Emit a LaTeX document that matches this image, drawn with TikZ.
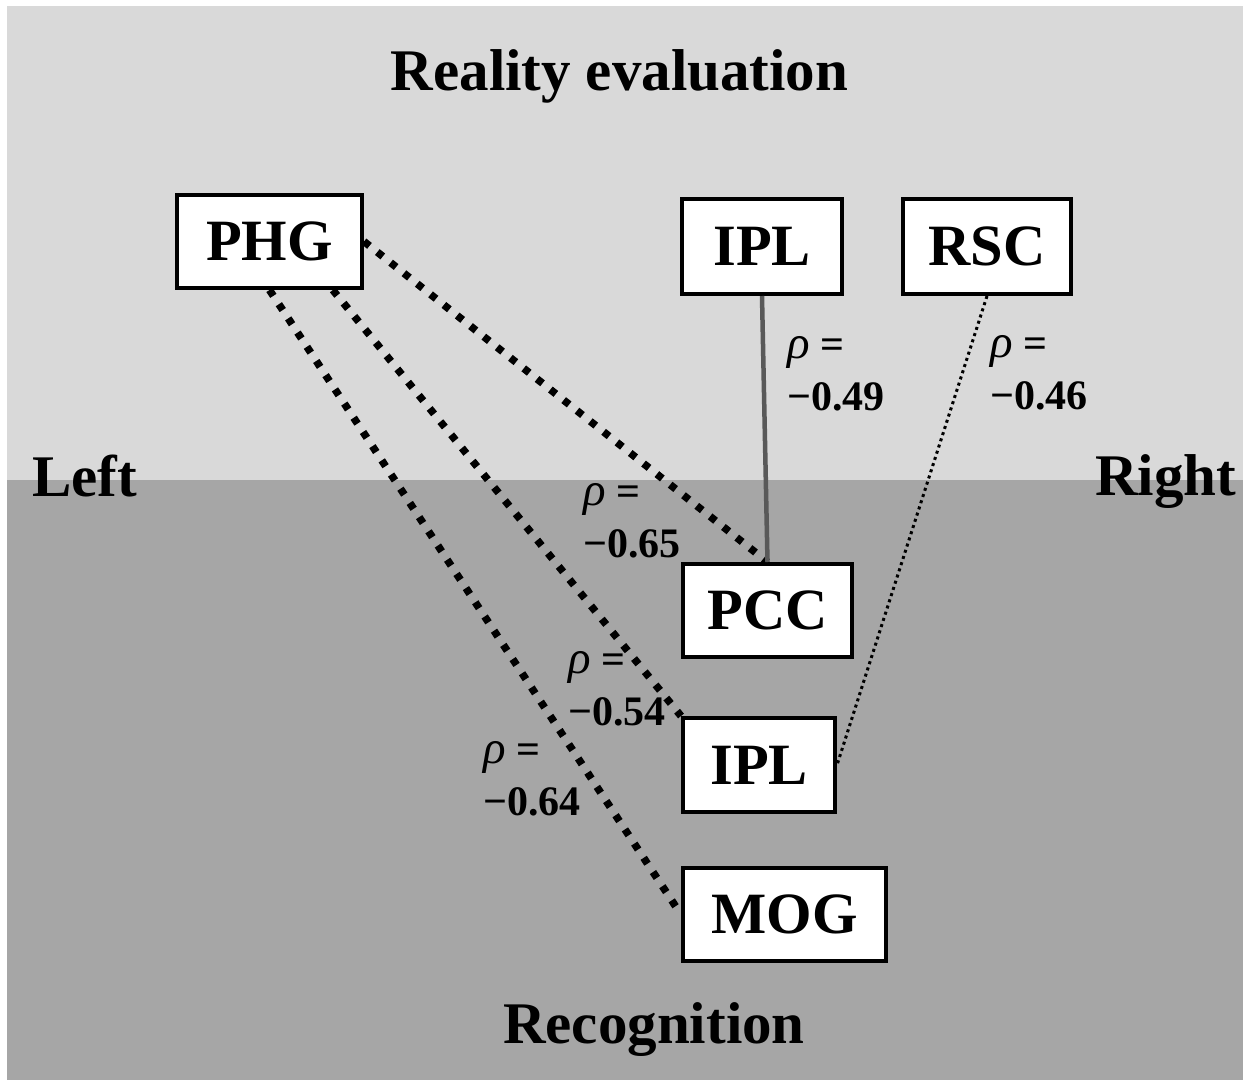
\documentclass[tikz,border=0pt]{standalone}
\usepackage{fontspec}
\setmainfont{Liberation Serif}
\usetikzlibrary{calc}

\definecolor{upperband}{HTML}{D9D9D9}
\definecolor{lowerband}{HTML}{A6A6A6}
\definecolor{linkgray}{HTML}{595959}

\newcommand\corrlab[1]{\begin{tabular}[t]{@{}l@{}}{\fontsize{47}{52}\selectfont\mdseries\itshape ρ} =\\#1\end{tabular}}

\tikzset{
  region/.style={rectangle, draw=black, line width=4pt, fill=white, inner sep=0pt,
    font=\fontsize{58.5}{70}\selectfont\bfseries},
  heading/.style={inner sep=0pt, font=\fontsize{59}{70}\selectfont\bfseries},
  corr/.style={inner sep=0pt, anchor=base west, font=\fontsize{42}{52}\selectfont\bfseries},
  strongdots/.style={line width=7.5pt, dash pattern=on 7pt off 10pt},
  finedots/.style={line width=3pt, dash pattern=on 3pt off 3.5pt},
  solidlink/.style={line width=4.5pt, draw=linkgray},
}

\begin{document}
\begin{tikzpicture}[x=1pt, y=-1pt]
  % canvas and the two hemispheric bands
  \useasboundingbox (0,0) rectangle (1243,1080);
  \fill[white] (0,0) rectangle (1243,1080);
  \fill[upperband] (7,6) rectangle (1243,480);
  \fill[lowerband] (7,480) rectangle (1243,1080);

  % headings
  \node[heading, anchor=base] (title) at (619.5,90) {Reality evaluation};
  \node[heading, anchor=base west] (left) at (32,496) {Left};
  \node[heading, anchor=base west] (right) at (1095,495) {Right};
  \node[heading, anchor=base west] (recog) at (503,1043) {Recognition};

  % regions
  \node[region, minimum width=185pt, minimum height=93pt] (phg)  at (269.5,241.5) {PHG};
  \node[region, minimum width=160pt, minimum height=95pt] (iplt) at (762,246.5) {IPL};
  \node[region, minimum width=168pt, minimum height=95pt] (rsc)  at (987,246.5) {RSC};
  \node[region, minimum width=169pt, minimum height=93pt] (pcc)  at (767.5,610.5) {PCC};
  \node[region, minimum width=152pt, minimum height=94pt] (iplb) at (759,765) {IPL};
  \node[region, minimum width=203pt, minimum height=93pt] (mog)  at (784.5,914.5) {MOG};

  % connections
  \coordinate (phgfoot) at ($(phg.south)!0.67!(phg.south east)$);
  \draw[strongdots] (phg.east) -- (pcc.north);
  \draw[strongdots] (phgfoot) -- (iplb.north west);
  \draw[strongdots] (phg.south) -- (mog.west);
  \draw[solidlink] (iplt.south) -- (pcc.north);
  \draw[finedots] (rsc.south) -- (iplb.east);

  % correlation coefficients
  \node[corr] (c49) at (787,358) {\corrlab{−0.49}};
  \node[corr] (c46) at (990,357) {\corrlab{−0.46}};
  \node[corr] (c65) at (583,505) {\corrlab{−0.65}};
  \node[corr] (c54) at (568,673) {\corrlab{−0.54}};
  \node[corr] (c64) at (483,763) {\corrlab{−0.64}};
\end{tikzpicture}
\end{document}
